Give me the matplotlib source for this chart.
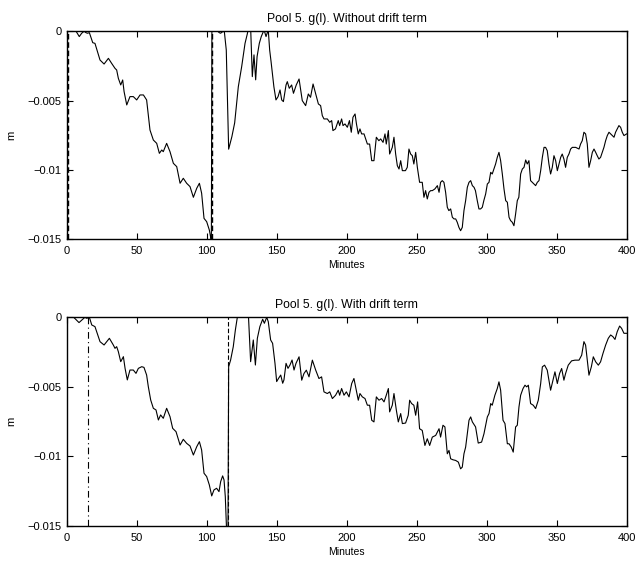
import numpy as np
import matplotlib.pyplot as plt

plt.rcParams['font.family'] = ['Liberation Sans', 'DejaVu Sans']

# g(l) without drift term (minutes, mm)
t_top = [0, 3, 6.7, 9.0, 10.7, 12.4, 13.8, 14.8, 16.2, 18.6, 20.2, 23.8, 26.7, 29.8, 32.1, 34.5,
         35.7, 36.9, 38.6, 40, 41, 42.9, 45.2, 47.6, 50, 52.4, 54.8, 57.1, 59.5, 61.9, 64.3,
         66.2, 67.9, 69, 71.4, 73.8, 76.2, 78.6, 81, 83.3, 85.7, 88.1, 90.5, 92.9, 94.8, 96.4,
         98.1, 100, 101.9, 103.1, 103.3, 103.8, 106, 108, 109, 110, 111, 112.6, 114, 115.7, 118,
         120, 122.6, 125, 127.4, 129, 130, 131.4, 132.6, 133.8, 135, 136, 137.6, 139, 141,
         142.4, 144, 145, 146, 148, 149.5, 151, 152.4, 153.6, 154.8, 156.7, 157.6, 159, 160.7,
         162, 164, 166, 168.3, 170.7, 172.6, 174.2, 176, 177.9, 179.8, 181.4, 182.6, 183.8,
         186.2, 187.9, 189.3, 190.2, 192, 194, 195, 196.4, 197.4, 198.8, 200.5, 202, 203.3,
         204.5, 206, 207, 208.3, 209.5, 210.7, 212.4, 214.8, 216.4, 217.9, 219.5, 221.2, 223,
         224.3, 226, 227.4, 228.3, 229.8, 230.7, 232.6, 233.8, 235, 236.2, 237.4, 238.6, 239.8,
         242, 243.3, 244.5, 245.7, 246.9, 248, 249.3, 250.5, 252.1, 254, 255.2, 256.4, 257.6,
         258.8, 260, 261.2, 263, 264.8, 266, 267.1, 268.3, 269.5, 270.7, 271.9, 273, 274.3,
         275.5, 276.7, 277.9, 279, 280.2, 281.4, 282.6, 283.8, 285, 286.2, 287.4, 288.6, 289.8,
         291, 292, 293.3, 294.5, 295.7, 296.9, 298, 299.3, 300.5, 301.7, 302.9, 304, 305.2,
         306.4, 307.6, 308.8, 310, 311.2, 312.4, 313.6, 314.8, 316, 317.1, 318.3, 319.5, 320.7,
         321.9, 323, 324.3, 325.5, 326.7, 327.9, 329, 330.2, 331.4, 332.6, 335, 336.2, 337.4,
         338.6, 339.8, 341, 342.1, 343.3, 344.5, 345.7, 346.9, 348.1, 349.3, 350.5, 351.7,
         352.9, 354, 355.2, 356.4, 357.6, 358.8, 360, 361.2, 363.6, 366, 367.1, 368.3, 369.5,
         370.7, 371.9, 373.1, 374.3, 375.5, 376.7, 377.9, 379, 380.2, 381.4, 382.6, 383.8, 385,
         386.2, 387.4, 388.6, 389.8, 391, 392.1, 393.3, 394.5, 395.7, 396.9, 398.1, 400]
g_top = [0.2, 0.2, 0, -0.38, -0.14, 0, -0.1, -0.14, -0.1, -0.82, -0.87, -2.07, -2.36, -1.95, -2.31,
         -2.67, -2.79, -3.39, -3.87, -3.51, -4.35, -5.31, -4.71, -4.71, -4.95, -4.59, -4.59,
         -4.95, -7.12, -7.84, -8.08, -8.80, -8.56, -8.68, -8.08, -8.68, -9.52, -9.76, -10.96,
         -10.60, -10.96, -11.20, -11.97, -11.32, -10.96, -11.68, -13.49, -13.73, -14.33, -15.0,
         -17, 3, 1, 0, -0.1, -0.14, -0.05, 0, -1.35, -8.5, -7.6, -6.6, -4.0, -2.55, -0.87, -0.2,
         0.3, 0.3, -3.27, -1.7, -3.5, -1.83, -0.87, -0.38, 0.1, -0.38, 0.1, -1.35, -2.19, -3.99,
         -4.95, -4.71, -4.23, -4.95, -5.07, -3.87, -3.63, -4.11, -3.87, -4.47, -3.87, -3.44,
         -5.0, -5.36, -4.52, -4.76, -3.80, -4.52, -5.24, -5.36, -6.08, -6.32, -6.32, -6.56,
         -6.44, -7.16, -7.04, -6.44, -6.80, -6.32, -6.80, -6.68, -6.92, -6.44, -7.28, -6.20,
         -5.96, -6.68, -7.40, -7.04, -7.40, -7.40, -8.13, -8.13, -9.33, -9.33, -7.64, -7.89,
         -7.76, -8.01, -7.40, -8.13, -7.16, -8.85, -8.37, -7.64, -8.85, -9.69, -9.93, -9.33,
         -10.05, -10.05, -9.81, -8.49, -8.85, -8.97, -9.57, -8.73, -9.81, -10.89, -10.89,
         -11.97, -11.49, -12.09, -11.61, -11.49, -11.49, -11.37, -11.13, -11.61, -10.89,
         -10.77, -10.89, -11.61, -12.69, -12.93, -12.81, -13.41, -13.53, -13.53, -13.77,
         -14.14, -14.38, -14.14, -12.93, -12.21, -11.25, -10.89, -10.77, -11.13, -11.25,
         -11.49, -12.21, -12.81, -12.81, -12.69, -12.21, -11.73, -11.01, -10.89, -10.17,
         -10.29, -9.93, -9.57, -9.09, -8.73, -9.33, -10.29, -11.37, -12.21, -12.33, -13.41,
         -13.65, -13.77, -14.02, -13.17, -12.21, -11.97, -10.29, -9.93, -9.81, -9.28, -9.57,
         -9.33, -10.77, -10.89, -11.13, -10.89, -10.77, -10.05, -9.09, -8.37, -8.37, -8.61,
         -9.57, -10.29, -9.81, -8.97, -9.33, -10.05, -9.57, -9.09, -8.85, -9.21, -9.81, -9.09,
         -8.85, -8.49, -8.37, -8.37, -8.49, -8.13, -7.89, -7.28, -7.40, -8.13, -9.81, -9.33,
         -8.73, -8.49, -8.73, -8.97, -9.21, -9.09, -8.73, -8.37, -7.89, -7.52, -7.28, -7.40,
         -7.52, -7.64, -7.28, -7.04, -6.80, -6.92, -7.28, -7.52, -7.40]

# g(l) with drift term (minutes, mm)
t_bot = [0, 3, 5, 8.8, 13, 14.3, 16.2, 17.9, 20.2, 23.8, 26.7, 30.5, 33.3, 34.5, 35.7, 36.9,
         38.6, 40.5, 41.7, 43.3, 45.2, 47.6, 49.5, 51.2, 53.6, 55.2, 57.1, 58.3, 60, 61.9,
         63.8, 65.5, 67.1, 69, 71.4, 73.8, 75.7, 78.1, 81, 83.3, 85.7, 88.1, 90.5, 92.9, 94.8,
         96.4, 98.1, 100, 101.9, 103.6, 105.2, 107.1, 108.8, 110, 111.4, 112.4, 113.3, 114.3,
         115.2, 115.7, 117.1, 119, 120.5, 121.9, 123, 127, 129.8, 131.4, 133.3, 134.8, 136.2,
         138, 140, 141.2, 142.9, 144, 145.7, 147.1, 148.8, 150, 151.4, 152.9, 154.3, 155.2,
         156.7, 158.1, 159.5, 161, 162.4, 163.8, 166, 167.9, 169.5, 171.2, 173.1, 175.5, 177.9,
         180.2, 182.1, 183.8, 186.2, 187.9, 189.8, 192.1, 194, 195, 196.4, 198.1, 199.8, 201.7,
         203.6, 205.2, 206.9, 208.3, 209.5, 211.2, 213.1, 214.8, 216.4, 217.9, 219.5, 221.2,
         223.1, 225, 226.7, 228.3, 229.8, 230.7, 232.6, 233.8, 235.5, 236.9, 238.6, 239.8,
         242.1, 244, 245, 246.4, 248, 249.3, 250.7, 252.1, 254, 255.9, 257.6, 259.3, 261.2,
         263.6, 266, 267.1, 268.8, 270.2, 271.9, 273.1, 274.3, 275.9, 277.9, 279.8, 281.4,
         282.6, 283.8, 285, 286.2, 287.4, 288.6, 289.8, 292.1, 294, 296.4, 298.1, 300.5, 301.7,
         302.9, 304, 305.9, 307.6, 308.8, 310, 311.7, 313.1, 314.8, 316, 317.6, 319, 320.7,
         321.9, 323.1, 324.3, 326, 327.4, 328.6, 329.8, 331.4, 333.3, 335, 336.9, 338.6, 339.8,
         341.4, 343.3, 344.5, 345.7, 347.4, 348.8, 350.5, 352.1, 353.6, 355.2, 356.4, 358.3,
         360.7, 363.1, 366, 367.9, 369.5, 370.7, 371.9, 373.1, 374.8, 376.2, 377.9, 379.8,
         381.4, 383.1, 385, 386.9, 388.6, 390.2, 391.7, 393.3, 395, 396.4, 398.1, 400]
g_bot = [0.2, 0.2, 0, -0.38, 0, -0.07, 0, -0.55, -0.67, -1.75, -1.99, -1.51, -1.99, -2.23, -2.11,
         -2.47, -3.19, -2.83, -3.67, -4.50, -3.79, -3.79, -4.03, -3.67, -3.55, -3.60, -4.15,
         -4.98, -5.94, -6.54, -6.66, -7.38, -7.02, -7.26, -6.54, -7.14, -7.98, -8.22, -9.18,
         -8.77, -9.06, -9.25, -9.90, -9.30, -8.94, -9.54, -11.21, -11.45, -12.05, -12.84,
         -12.41, -12.29, -12.53, -11.81, -11.40, -11.69, -12.89, -15.5, -16, -3.55, -3.07,
         -2.11, -0.91, 0, 1, 1, 0.2, -3.19, -1.63, -3.43, -1.51, -0.67, -0.14, -0.43, 0, -0.31,
         -1.63, -1.87, -3.31, -4.62, -4.38, -4.15, -4.74, -4.50, -3.31, -3.67, -3.43, -3.07,
         -3.79, -3.31, -2.84, -4.52, -4.04, -3.80, -4.28, -3.08, -3.80, -4.40, -4.28, -5.36,
         -5.48, -5.36, -5.84, -5.60, -5.24, -5.60, -5.12, -5.60, -5.36, -5.72, -4.76, -4.40,
         -5.24, -5.96, -5.48, -5.72, -5.84, -6.32, -6.32, -7.40, -7.52, -5.72, -5.96, -5.84,
         -6.08, -5.60, -5.12, -6.80, -6.32, -5.48, -6.68, -7.52, -6.92, -7.64, -7.60, -7.04,
         -5.96, -6.20, -6.32, -7.04, -6.08, -8.01, -8.13, -9.21, -8.73, -9.21, -8.61, -8.49,
         -8.01, -8.61, -7.76, -7.88, -9.81, -9.57, -10.17, -10.24, -10.29, -10.41, -10.89,
         -10.77, -9.81, -9.33, -8.37, -7.40, -7.16, -7.52, -7.88, -9.04, -8.97, -8.37, -7.16,
         -6.92, -6.20, -6.32, -5.60, -5.12, -4.64, -5.24, -7.40, -7.64, -9.09, -9.09, -9.33,
         -9.69, -7.88, -7.76, -6.44, -5.60, -5.12, -4.88, -5.00, -4.88, -6.20, -6.32, -6.56,
         -5.96, -4.76, -3.56, -3.44, -3.80, -4.52, -5.24, -4.52, -3.92, -4.76, -4.04, -3.68,
         -4.52, -4.04, -3.44, -3.13, -3.08, -3.08, -2.72, -1.75, -2.00, -3.08, -4.16, -3.56,
         -2.84, -3.20, -3.44, -3.20, -2.60, -2.00, -1.51, -1.27, -1.39, -1.59, -1.03, -0.63,
         -0.79, -1.15, -1.15]

# marker lines (minutes)
top_dashed = [0.8, 103.8]
bot_dashdot = [15.5]
bot_dashed = [115.0]

titles = ["Pool 5. g(l). Without drift term", "Pool 5. g(l). With drift term"]
xticks = [0, 50, 100, 150, 200, 250, 300, 350, 400]
yticks = [-0.015, -0.01, -0.005, 0]
ytick_labels = ["\u22120.015", "\u22120.01", "\u22120.005", "0"]

fig = plt.figure(figsize=(6.37, 5.62), dpi=100)
ax1 = fig.add_axes([0.1047, 0.5742, 0.879, 0.3701])
ax2 = fig.add_axes([0.1047, 0.0641, 0.879, 0.3713])

def style_axes(ax, title):
    ax.set_xlim(0, 400)
    ax.set_ylim(-0.015, 0)
    ax.set_xticks(xticks)
    ax.set_yticks(yticks)
    ax.set_yticklabels(ytick_labels)
    ax.tick_params(direction='in', top=True, right=True, length=4, width=0.8,
                   labelsize=8)
    ax.tick_params(axis='x', pad=5)
    ax.tick_params(axis='y', pad=3.5)
    for sp in ax.spines.values():
        sp.set_linewidth(1.0)
    ax.set_title(title, fontsize=8.8, pad=7)
    ax.set_xlabel("Minutes", fontsize=7.5, labelpad=3)
    ax.set_ylabel("m", fontsize=8, labelpad=8)

ax1.plot(t_top, np.array(g_top) * 1e-3, color='black', lw=0.8)
for x in top_dashed:
    ax1.axvline(x, color='black', lw=1.0, ls=(0, (4, 2)))
style_axes(ax1, titles[0])

ax2.plot(t_bot, np.array(g_bot) * 1e-3, color='black', lw=0.8)
for x in bot_dashdot:
    ax2.axvline(x, color='black', lw=0.8, ls=(0, (6, 3, 1, 3)))
for x in bot_dashed:
    ax2.axvline(x, color='black', lw=0.8, ls=(0, (4, 2)))
style_axes(ax2, titles[1])

fig.savefig("out.png", dpi=100)
